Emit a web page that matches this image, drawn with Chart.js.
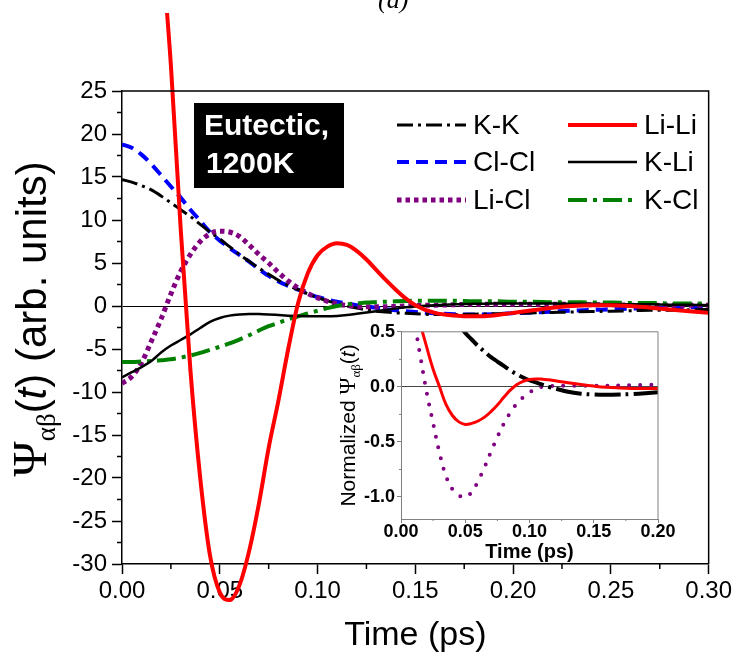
<!DOCTYPE html>
<html><head><meta charset="utf-8">
<script src="https://cdn.jsdelivr.net/npm/chart.js@4.4.0/dist/chart.umd.min.js"></script>
<style>
html,body{margin:0;padding:0;background:#fff;}
#wrap{position:relative;width:735px;height:656px;overflow:hidden;background:#fff;}
#main{position:absolute;left:0;top:0;}
#inset{position:absolute;left:330px;top:319px;}
</style></head><body>
<div id="wrap"><canvas id="main" width="735" height="656"></canvas><canvas id="inset" width="346" height="259"></canvas></div>
<script>
// ---------- main panel data (time in ps) ----------
const timeMain = [0,0.005,0.01,0.015,0.02,0.025,0.03,0.035,0.04,0.045,0.05,0.055,0.06,0.065,0.07,0.075,0.08,0.085,0.09,0.095,0.1,0.105,0.11,0.115,0.12,0.125,0.13,0.135,0.14,0.145,0.15,0.16,0.17,0.18,0.19,0.2,0.21,0.22,0.23,0.24,0.25,0.26,0.27,0.28,0.29,0.3];
const liLi = [100,92,78,60,43,28,9,-7.5,-20,-29,-33.3,-34.2,-32.5,-28.5,-23,-16.5,-11,-5,0.3,3.8,5.9,6.9,7.3,7.1,6.4,5.4,4.2,3.0,1.9,0.9,0.1,-0.8,-1.1,-1.2,-1.1,-0.8,-0.5,-0.2,0.0,0.1,0.1,0.0,-0.2,-0.4,-0.6,-0.8];
const clCl = [18.8,18.4,17.6,16.5,15.2,13.9,12.6,11.2,9.9,8.6,7.6,6.75,5.95,5.15,4.3,3.5,2.85,2.35,1.9,1.45,1.05,0.75,0.5,0.3,0.1,-0.05,-0.2,-0.35,-0.5,-0.6,-0.7,-0.85,-0.95,-1.0,-0.95,-0.85,-0.75,-0.65,-0.55,-0.45,-0.4,-0.3,-0.25,-0.2,-0.15,-0.1];
const kK = [14.7,14.4,14.0,13.5,12.8,12.0,11.2,10.4,9.5,8.6,7.8,6.9,6.0,5.2,4.4,3.7,3.0,2.4,1.9,1.4,1.0,0.6,0.3,0.0,-0.25,-0.45,-0.6,-0.7,-0.8,-0.85,-0.9,-1.0,-1.0,-0.95,-0.9,-0.85,-0.8,-0.75,-0.7,-0.65,-0.6,-0.55,-0.5,-0.5,-0.45,-0.4];
const liCl = [-9.0,-8.2,-6.6,-4.1,-1.5,1.4,4.0,6.0,7.5,8.4,8.7,8.6,8.1,7.1,6.0,5.0,3.9,2.9,2.1,1.45,0.95,0.55,0.25,0.05,-0.05,-0.1,-0.1,-0.1,-0.05,0.0,0.05,0.1,0.15,0.2,0.2,0.2,0.2,0.2,0.2,0.15,0.15,0.1,0.1,0.1,0.1,0.1];
const kLi = [-8.3,-7.7,-7.1,-6.4,-5.4,-4.6,-3.95,-3.3,-2.55,-1.85,-1.4,-1.12,-0.98,-0.92,-0.93,-0.98,-1.05,-1.12,-1.17,-1.2,-1.2,-1.2,-1.15,-1.05,-0.9,-0.75,-0.6,-0.45,-0.3,-0.15,-0.05,0.1,0.2,0.25,0.3,0.3,0.3,0.3,0.25,0.25,0.2,0.2,0.2,0.15,0.15,0.1];
const kCl = [-6.5,-6.5,-6.45,-6.4,-6.3,-6.2,-6.0,-5.75,-5.45,-5.1,-4.75,-4.35,-3.9,-3.4,-2.85,-2.35,-1.95,-1.55,-1.2,-0.85,-0.55,-0.25,0.0,0.2,0.3,0.4,0.45,0.5,0.55,0.58,0.6,0.6,0.6,0.55,0.55,0.5,0.5,0.45,0.45,0.4,0.4,0.35,0.35,0.3,0.3,0.3];

// ---------- inset data (normalized) ----------
const timeInset = [0,0.005,0.01,0.015,0.02,0.025,0.03,0.035,0.04,0.045,0.05,0.055,0.06,0.065,0.07,0.075,0.08,0.085,0.09,0.095,0.1,0.105,0.11,0.115,0.12,0.13,0.14,0.15,0.16,0.17,0.18,0.19,0.2];
const insetLiLi = [1.0,0.93,0.78,0.57,0.36,0.16,0.0,-0.16,-0.26,-0.318,-0.341,-0.332,-0.31,-0.275,-0.225,-0.165,-0.095,-0.03,0.02,0.05,0.066,0.072,0.07,0.064,0.056,0.037,0.021,0.007,-0.004,-0.01,-0.014,-0.015,-0.015];
const insetLiCl = [1.0,0.93,0.62,0.28,-0.05,-0.33,-0.6,-0.81,-0.93,-0.985,-1.0,-0.955,-0.855,-0.73,-0.59,-0.455,-0.335,-0.235,-0.155,-0.095,-0.05,-0.02,0.0,0.006,0.01,0.01,0.01,0.01,0.01,0.012,0.015,0.018,0.02];
const insetKK = [1.0,0.98,0.95,0.91,0.87,0.82,0.76,0.7,0.64,0.565,0.49,0.43,0.37,0.32,0.27,0.23,0.19,0.15,0.115,0.085,0.06,0.04,0.02,0.0,-0.015,-0.045,-0.062,-0.07,-0.072,-0.07,-0.065,-0.058,-0.05];

// ---------- tick labels ----------
const mainXTicks = ['0.00','0.05','0.10','0.15','0.20','0.25','0.30'];
const mainYTicks = [25,20,15,10,5,0,-5,-10,-15,-20,-25,-30];
const insetXTicks = ['0.00','0.05','0.10','0.15','0.20'];
const insetYTicks = [0.5,0.0,-0.5,-1.0];
const legendOrder = ['K-K','Li-Li','Cl-Cl','K-Li','Li-Cl','K-Cl'];

const SANS = "'Liberation Sans', Arial, Helvetica, sans-serif";
const SERIF = "'Liberation Serif', 'Times New Roman', serif";
Chart.defaults.font.family = SANS;
Chart.defaults.color = '#000';

const pts = (t, v) => t.map((x, i) => ({x: x, y: v[i]}));

function richText(ctx, segs, x, y, rot) {
  ctx.save();
  ctx.translate(x, y); ctx.rotate(rot);
  let total = 0;
  segs.forEach(s => { ctx.font = s.font; s.w = ctx.measureText(s.t).width; total += s.w; });
  let cx = -total / 2;
  ctx.textBaseline = 'alphabetic'; ctx.textAlign = 'left'; ctx.fillStyle = '#000';
  segs.forEach(s => { ctx.font = s.font; ctx.fillText(s.t, cx, s.dy || 0); cx += s.w; });
  ctx.restore();
}

function minorTicks(chart, xStep, yStep, len, color, width) {
  const ctx = chart.ctx, a = chart.chartArea, xs = chart.scales.x, ys = chart.scales.y;
  ctx.save();
  ctx.strokeStyle = color; ctx.lineWidth = width;
  ctx.beginPath();
  for (let v = xs.min + xStep / 2; v < xs.max; v += xStep) {
    const p = xs.getPixelForValue(v); ctx.moveTo(p, a.bottom); ctx.lineTo(p, a.bottom + len);
  }
  const y0 = Math.ceil(ys.min / yStep - 0.5) * yStep + yStep / 2;
  for (let v = y0; v < ys.max; v += yStep) {
    if (v <= ys.min) continue;
    const p = ys.getPixelForValue(v); ctx.moveTo(a.left - len, p); ctx.lineTo(a.left, p);
  }
  ctx.stroke();
  // top & right frame
  ctx.beginPath();
  ctx.moveTo(a.left, a.top); ctx.lineTo(a.right, a.top); ctx.lineTo(a.right, a.bottom);
  ctx.stroke();
  ctx.restore();
}

const mainDecor = {
  id: 'mainDecor',
  afterDraw(chart) {
    const ctx = chart.ctx;
    minorTicks(chart, 0.05, 5, 5, '#000', 1.5);
    // (a) label
    ctx.save();
    ctx.font = 'italic 26px ' + SERIF; ctx.fillStyle = '#000';
    ctx.textBaseline = 'alphabetic'; ctx.textAlign = 'left';
    ctx.fillText('(a)', 378, 8);
    // Eutectic box
    ctx.fillStyle = '#000'; ctx.fillRect(194, 103, 150, 85);
    ctx.fillStyle = '#fff'; ctx.font = 'bold 30px ' + SANS; ctx.textBaseline = 'middle';
    ctx.fillText('Eutectic,', 204, 127);
    ctx.fillText('1200K', 206, 165);
    // legend
    const cols = [{x1: 397, x2: 466, tx: 473}, {x1: 568, x2: 637, tx: 644}];
    const rows = [125, 162, 200];
    ctx.font = '28px ' + SANS; ctx.textBaseline = 'middle';
    legendOrder.forEach((lab, i) => {
      const ds = chart.data.datasets.find(d => d.label === lab);
      const c = cols[i % 2], y = rows[Math.floor(i / 2)];
      ctx.save();
      ctx.strokeStyle = ds.borderColor; ctx.lineWidth = ds.borderWidth;
      ctx.setLineDash(ds.borderDash || []); ctx.lineCap = ds.borderCapStyle || 'butt';
      ctx.beginPath(); ctx.moveTo(c.x1, y); ctx.lineTo(c.x2, y); ctx.stroke();
      ctx.restore();
      ctx.fillStyle = '#000'; ctx.fillText(lab, c.tx, y + 1);
    });
    ctx.restore();
    // y title
    richText(ctx, [
      {t: 'Ψ', font: '48px ' + SERIF},
      {t: 'αβ', font: '27px ' + SERIF, dy: 9},
      {t: '(', font: '42px ' + SANS},
      {t: 't', font: 'italic 42px ' + SANS},
      {t: ') (arb. units)', font: '42px ' + SANS}
    ], 46, 319, -Math.PI / 2);
  }
};

const insetDecor = {
  id: 'insetDecor',
  afterDraw(chart) {
    minorTicks(chart, 0.05, 0.5, 2, '#808080', 1);
    richText(chart.ctx, [
      {t: 'Normalized ', font: '21px ' + SANS},
      {t: 'Ψ', font: '23px ' + SERIF},
      {t: 'αβ', font: '13px ' + SERIF, dy: 5},
      {t: '(', font: '21px ' + SANS},
      {t: 't', font: 'italic 21px ' + SANS},
      {t: ')', font: '21px ' + SANS}
    ], 24.5, 106.5, -Math.PI / 2);
  }
};

const common = {pointRadius: 0, fill: false, cubicInterpolationMode: 'monotone'};
const smooth = {pointRadius: 0, fill: false, tension: 0.4};

new Chart(document.getElementById('main'), {
  type: 'line',
  data: {datasets: [
    {...common, label: 'Li-Li', data: pts(timeMain, liLi), borderColor: '#ff0000', borderWidth: 4, clip: {left: 0, top: 78, right: 0, bottom: 45}},
    {...common, label: 'K-Li', data: pts(timeMain, kLi), borderColor: '#000000', borderWidth: 2.5},
    {...common, label: 'K-Cl', data: pts(timeMain, kCl), borderColor: '#008000', borderWidth: 4, borderDash: [19, 6, 4, 6]},
    {...common, label: 'Li-Cl', data: pts(timeMain, liCl), borderColor: '#800080', borderWidth: 5, borderDash: [4.5, 4]},
    {...common, label: 'K-K', data: pts(timeMain, kK), borderColor: '#000000', borderWidth: 3, borderDash: [16, 5, 3, 5]},
    {...common, label: 'Cl-Cl', data: pts(timeMain, clCl), borderColor: '#0000ff', borderWidth: 4, borderDash: [12, 7]}
  ]},
  options: {
    responsive: false, animation: false, devicePixelRatio: 1,
    layout: {padding: {left: 0, top: 91, right: 25, bottom: 0}},
    plugins: {legend: {display: false}, tooltip: {enabled: false}},
    scales: {
      x: {
        type: 'linear', min: 0, max: 0.3,
        afterBuildTicks(s) { s.ticks = mainXTicks.map(t => ({value: parseFloat(t)})); },
        ticks: {callback: (v) => Number(v).toFixed(2), font: {size: 24}, color: '#000', padding: 3, maxRotation: 0, autoSkip: false},
        grid: {drawOnChartArea: false, tickLength: 10, tickColor: '#000', tickWidth: 1.5},
        border: {color: '#000', width: 1.5},
        title: {display: true, text: 'Time (ps)', font: {size: 34}, color: '#000', padding: {top: 0, bottom: 0}},
        afterFit(s) { s.height = 92; }
      },
      y: {
        min: -30, max: 25,
        afterBuildTicks(s) { s.ticks = mainYTicks.slice().reverse().map(v => ({value: v})); },
        ticks: {callback: (v) => String(v), font: {size: 24}, color: '#000', padding: 5, autoSkip: false},
        grid: {drawOnChartArea: true, lineWidth: 1, color: (c) => (c.tick && c.tick.value === 0) ? '#000' : 'rgba(0,0,0,0)', tickLength: 10, tickColor: '#000', tickWidth: 1.5},
        border: {color: '#000', width: 1.5},
        afterFit(s) { s.width = 122; }
      }
    }
  },
  plugins: [mainDecor]
});

new Chart(document.getElementById('inset'), {
  type: 'line',
  data: {datasets: [
    {...smooth, label: 'Li-Li', data: pts(timeInset, insetLiLi), borderColor: '#ff0000', borderWidth: 3},
    {...smooth, label: 'K-K', data: pts(timeInset, insetKK), borderColor: '#000000', borderWidth: 4, borderDash: [26, 5, 3, 5]},
    {...smooth, label: 'Li-Cl', data: pts(timeInset, insetLiCl), borderColor: '#800080', borderWidth: 4, borderDash: [0, 11], borderCapStyle: 'round'}
  ]},
  options: {
    responsive: false, animation: false, devicePixelRatio: 1,
    layout: {padding: {left: 0, top: 12, right: 18, bottom: 0}},
    plugins: {legend: {display: false}, tooltip: {enabled: false}},
    scales: {
      x: {
        type: 'linear', min: 0, max: 0.2,
        afterBuildTicks(s) { s.ticks = insetXTicks.map(t => ({value: parseFloat(t)})); },
        ticks: {callback: (v) => Number(v).toFixed(2), font: {size: 18, weight: 'bold'}, color: '#000', padding: -2, maxRotation: 0, autoSkip: false},
        grid: {drawOnChartArea: false, tickLength: 4, tickColor: '#808080', tickWidth: 1},
        border: {color: '#808080', width: 1},
        title: {display: true, text: 'Time (ps)', font: {size: 20, weight: 'bold'}, color: '#000', padding: {top: 0, bottom: 14}},
        afterFit(s) { s.height = 59; }
      },
      y: {
        min: -1.2, max: 0.5,
        afterBuildTicks(s) { s.ticks = insetYTicks.slice().reverse().map(v => ({value: v})); },
        ticks: {callback: (v) => Number(v).toFixed(1), font: {size: 18, weight: 'bold'}, color: '#000', padding: 2, autoSkip: false},
        grid: {drawOnChartArea: true, lineWidth: 1, color: (c) => (c.tick && c.tick.value === 0) ? '#444' : 'rgba(0,0,0,0)', tickLength: 4, tickColor: '#808080', tickWidth: 1},
        border: {color: '#808080', width: 1},
        afterFit(s) { s.width = 71; }
      }
    }
  },
  plugins: [insetDecor]
});
</script>
</body></html>
